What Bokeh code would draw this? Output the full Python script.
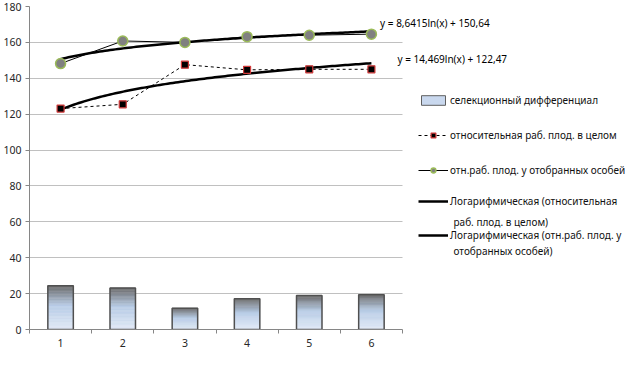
import numpy as np
from bokeh.plotting import figure
from bokeh.models import Range1d, FixedTicker, Legend, LegendItem, Label
from bokeh.embed import file_html
from bokeh.resources import INLINE

# ---------------- data ----------------
categories = [1, 2, 3, 4, 5, 6]
tick_labels = ["1", "2", "3", "4", "5", "6"]
sel_diff = [24.4, 23.1, 11.9, 17.2, 18.9, 19.4]          # селекционный дифференциал
rel_overall = [123.1, 125.5, 147.6, 144.7, 145.0, 145.0]  # относительная раб. плод. в целом
rel_selected = [148.2, 160.8, 160.0, 163.2, 164.0, 164.6] # отн.раб. плод. у отобранных особей
trend_overall_coef = [14.469, 122.47]
trend_selected_coef = [8.6415, 150.64]
eq_overall = "y = 14,469ln(x) + 122,47"
eq_selected = "y = 8,6415ln(x) + 150,64"
y_ticks = [0, 20, 40, 60, 80, 100, 120, 140, 160, 180]
legend_labels = [
    "селекционный дифференциал",
    "относительная раб. плод. в целом",
    "отн.раб. плод. у отобранных особей",
    "Логарифмическая (относительная",
    "Логарифмическая (отн.раб. плод. у",
]
legend_second_lines = ["раб. плод. в целом)", "отобранных особей)"]

FONT = "Noto Sans"
FS = "10px"
X0, X1 = 0.5, 6.5          # category axis extent
FRAME_W, FRAME_H = 596, 323
PX_PER_X = 373 / 6.0
X_END = X0 + FRAME_W / PX_PER_X   # frame continues under the legend area (no grid/axis there)

p = figure(frame_width=FRAME_W, frame_height=FRAME_H, x_range=Range1d(X0, X_END), y_range=Range1d(0, 180),
           output_backend="svg", toolbar_location=None,
           min_border_left=27, min_border_right=1, min_border_top=6, min_border_bottom=21)
p.outline_line_color = None
p.background_fill_color = "white"
p.border_fill_color = "white"

# axes
p.xaxis.bounds = (X0, X1)
p.xaxis.ticker = FixedTicker(ticks=categories, minor_ticks=[c - 0.5 for c in categories] + [categories[-1] + 0.5])
p.xaxis.major_label_overrides = {c: t for c, t in zip(categories, tick_labels)}
p.xaxis.major_tick_out = 0
p.xaxis.major_tick_in = 0
p.xaxis.minor_tick_out = 4
p.xaxis.minor_tick_in = 0
p.xaxis.minor_tick_line_color = "#868686"
p.xaxis.major_label_standoff = 5
p.yaxis.ticker = FixedTicker(ticks=y_ticks)
p.yaxis.major_tick_out = 4
p.yaxis.major_tick_in = 0
p.yaxis.minor_tick_line_color = None
p.yaxis.major_label_standoff = 4
for ax in (p.xaxis, p.yaxis):
    ax.axis_line_color = "#868686"
    ax.major_tick_line_color = "#868686"
    ax.major_label_text_font = FONT
    ax.major_label_text_font_size = "10.5px"
    ax.major_label_text_color = "#262626"
p.xgrid.grid_line_color = None
p.ygrid.grid_line_color = "#c0c0c0"
p.ygrid.ticker = FixedTicker(ticks=y_ticks[1:])
p.ygrid.cross_bounds = (X0, X1)

# ---------------- bars with gradient ----------------
def hex2rgb(h):
    return np.array([int(h[i:i + 2], 16) for i in (1, 3, 5)], dtype=float)

c_bot, c_mid, c_top = hex2rgb("#e2eaf6"), hex2rgb("#b8cce6"), hex2rgb("#6c6c6c")

def grad(t):
    if t < 0.55:
        c = c_bot + (c_mid - c_bot) * (t / 0.55)
    else:
        c = c_mid + (c_top - c_mid) * ((t - 0.55) / 0.45)
    return "#%02x%02x%02x" % tuple(int(round(v)) for v in c)

N = 30
bw = 0.41
L, R, B, T, C = [], [], [], [], []
for x, v in zip(categories, sel_diff):
    for k in range(N):
        L.append(x - bw / 2); R.append(x + bw / 2)
        B.append(v * k / N); T.append(v * (k + 1) / N)
        C.append(grad((k + 0.5) / N))
strips = p.quad(left=L, right=R, bottom=B, top=T, fill_color=C, line_color=C, line_width=0.5)
outline = p.quad(left=[x - bw / 2 for x in categories], right=[x + bw / 2 for x in categories],
                 bottom=[0] * len(categories), top=sel_diff,
                 fill_color=None, line_color="#505050", line_width=1.5)
leg_patch = p.quad(left=[0], right=[0], bottom=[0], top=[0], fill_color="#c9d8ee",
                   line_color="#606060", line_width=1, visible=False)

# ---------------- trend lines ----------------
xs = np.linspace(categories[0], categories[-1], 120)
tr_o = p.line(xs, trend_overall_coef[0] * np.log(xs) + trend_overall_coef[1], line_color="black", line_width=2.5)
tr_s = p.line(xs, trend_selected_coef[0] * np.log(xs) + trend_selected_coef[1], line_color="black", line_width=2.5)

# ---------------- series ----------------
l_o = p.line(categories, rel_overall, line_color="black", line_width=1, line_dash="3 3")
m_o = p.scatter(categories, rel_overall, marker="square", size=7, fill_color="black",
                line_color="#d03a3a", line_width=1.2)
l_s = p.line(categories, rel_selected, line_color="black", line_width=1)
m_s = p.scatter(categories, rel_selected, marker="circle", size=10, fill_color="#808080",
                line_color="#9bbb59", line_width=1.5)

# ---------------- equation labels ----------------
p.add_layout(Label(x=6.14, y=171.0, text=eq_selected, text_baseline="middle", text_font=FONT,
                   text_font_size=FS, text_color="black"))
p.add_layout(Label(x=6.42, y=151.0, text=eq_overall, text_baseline="middle", text_font=FONT,
                   text_font_size=FS, text_color="black"))

# ---------------- legends (one per entry, placed like the reference) ----------------
def add_legend(label, renderers, bottom, gw=30):
    lg = Legend(items=[LegendItem(label=label, renderers=renderers)], location=(389, bottom),
                glyph_width=gw, glyph_height=12, label_height=12, label_standoff=2,
                padding=0, margin=0, spacing=0, border_line_color=None,
                background_fill_alpha=0, label_text_font=FONT, label_text_font_size=FS,
                label_text_color="#111111")
    p.add_layout(lg, "center")

add_legend(legend_labels[0], [leg_patch], 222)
add_legend(legend_labels[1], [l_o, m_o], 187)
add_legend(legend_labels[2], [l_s, m_s], 152)
add_legend(legend_labels[3], [tr_o], 121)
add_legend(legend_labels[4], [tr_s], 87)

x_text = X0 + (451 - 27) / PX_PER_X
for txt, yv in zip(legend_second_lines, [59.9, 43.6]):
    p.add_layout(Label(x=x_text, y=yv, text=txt, text_baseline="middle", text_font=FONT,
                       text_font_size=FS, text_color="#111111"))

open("out.html", "w").write(file_html(p, INLINE))
